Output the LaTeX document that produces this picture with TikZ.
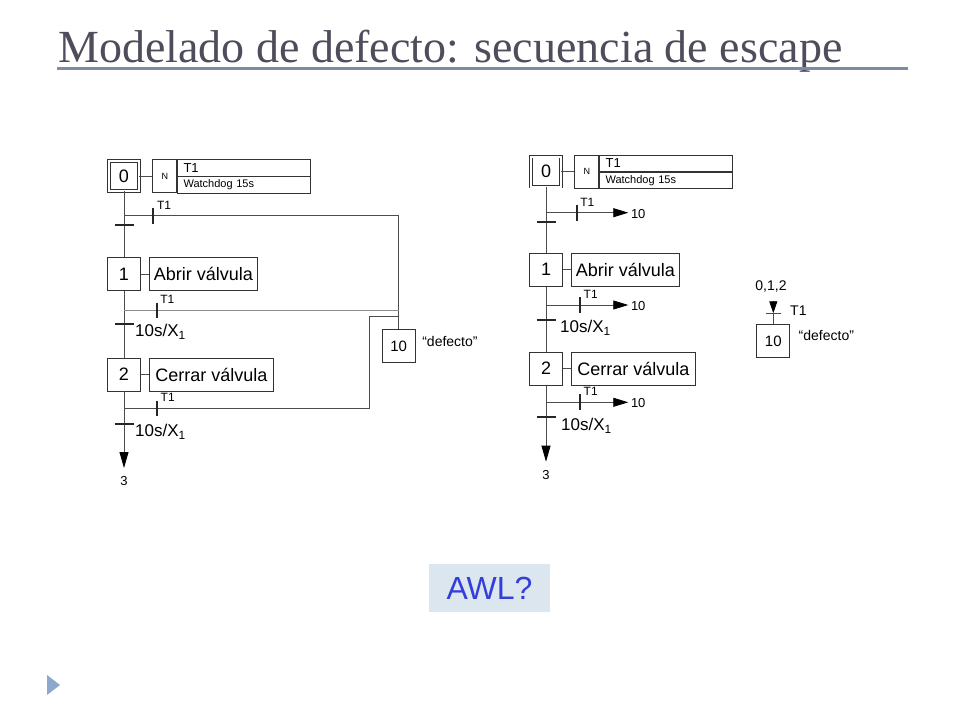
\documentclass[tikz,border=0pt]{standalone}
\usepackage{fontspec}
\setmainfont{Liberation Sans}
\newfontfamily\titlefont{Liberation Serif}
\usepackage{xcolor}
\usetikzlibrary{arrows.meta,positioning,calc}
\definecolor{titlegray}{RGB}{77,77,92}
\definecolor{rulegray}{RGB}{125,139,165}
\definecolor{awlback}{RGB}{220,230,238}
\definecolor{awlblue}{RGB}{52,62,218}
\definecolor{bulletblue}{RGB}{141,168,203}
\newcommand{\fs}[1]{\fontsize{#1}{#1}\selectfont}

\begin{document}
\begin{tikzpicture}[x=1pt, y=-1pt, >=Latex]
\tikzstyle{etapa}=[draw=black!80, line width=0.8pt, minimum width=33pt, minimum height=33pt, inner sep=0pt, font=\fs{18}]
\tikzstyle{inicial}=[etapa, minimum width=30pt, minimum height=30pt, line width=0.7pt, double, double distance=2pt]
\tikzstyle{accion}=[draw=black!80, line width=0.8pt, minimum height=33pt, inner sep=3pt, font=\fs{18}]
\tikzstyle{celdan}=[draw=black!80, line width=0.8pt, minimum width=24pt, minimum height=33pt, inner sep=0pt, font=\fs{9}]
\tikzstyle{celda}=[draw=black!80, line width=0.8pt, anchor=north west, minimum height=16.5pt, text width=121pt, inner xsep=6pt, inner ysep=0pt, align=left]
\tikzstyle{linea}=[draw=black!70, line width=0.8pt]
\tikzstyle{barra}=[black!85, line width=2pt]
\tikzstyle{lbl}=[inner sep=0pt, font=\fs{12}]
\tikzstyle{flecha}=[linea, -{Triangle[length=15pt,width=9pt,color=black,fill=black]}]
\tikzstyle{baja}=[linea, -{Triangle[length=16pt,width=9pt,color=black,fill=black]}]

\fill[white] (0,0) rectangle (960,720);
\useasboundingbox (0,0) rectangle (960,720);

% title
\node[font=\titlefont\fs{46}, text=titlegray, anchor=base west, inner sep=0pt] (titulo) at (58,62) {Modelado de defecto: secuencia de escape};
\draw[rulegray, line width=2.5pt] (57,68.5) -- (908,68.5);

% left grafcet
\node[inicial] (s0) at (124,176) {0};
\node[celdan, right=13pt of s0] (a0n) {N};
\node[celda, font=\fs{13}] (a0t) at (a0n.north east) {T1};
\node[celda, font=\fs{11}] (a0w) at (a0t.south west) {Watchdog 15s};
\node[etapa] (s1) at (124,274) {1};
\node[accion, minimum width=108pt, right=8pt of s1] (a1) {Abrir válvula};
\node[etapa] (s2) at (124,374.5) {2};
\node[accion, minimum width=124pt, right=8pt of s2] (a2) {Cerrar válvula};
\node[etapa, font=\fs{15}] (s10) at (398.7,346.3) {10};
\node[lbl, font=\fs{14}, anchor=west] (d10) at ($(s10.east)+(6.5,-4.6)$) {“defecto”};

\coordinate (j0) at (124,215.7);
\coordinate (t0) at (124,225);
\coordinate (j1) at (124,310);
\coordinate (t1) at (124,324);
\coordinate (j2) at (124,408);
\coordinate (t2) at (124,424);
\coordinate (e3) at (124,468);
\coordinate (m0) at (153.3,215.7);
\coordinate (m1) at (156.7,310);
\coordinate (m2) at (157,408);
\coordinate (q2) at (369,316.7);

\draw[linea] (s0) -- (a0n);
\draw[linea] (s1) -- (a1);
\draw[linea] (s2) -- (a2);
\draw[linea] (s0) -- (s1) -- (s2);
\draw[baja] (s2) -- (e3);
\node[lbl, font=\fs{13}, anchor=north] (n3) at ($(e3)+(0,8.5)$) {3};

\draw[linea] (j0) -| (s10);
\draw[linea, black!45] (j1) -- (j1 -| s10);
\draw[linea] (j2) -| (q2) -- (q2 -| s10);

\foreach \t in {t0,t1,t2}
  \draw[barra] ($(\t)+(-9.5,0)$) -- ($(\t)+(9.5,0)$);
\foreach \m in {m0,m1,m2} {
  \draw[barra] ($(\m)+(0,-7.5)$) -- ($(\m)+(0,8)$);
  \node[lbl, anchor=west] at ($(\m)+(3.5,-10.7)$) {T1};
}
\node[lbl, font=\fs{17}, anchor=west] (c1) at ($(t1)+(11,7.7)$) {10s/X\textsubscript{1}};
\node[lbl, font=\fs{17}, anchor=west] (c2) at ($(t2)+(11,7.7)$) {10s/X\textsubscript{1}};

% right grafcet
\node[inicial] (r0) at (546,171.5) {0};
\node[celdan, right=13pt of r0] (ra0n) {N};
\node[celda, font=\fs{13}] (ra0t) at (ra0n.north east) {T1};
\node[celda, font=\fs{11}] (ra0w) at (ra0t.south west) {Watchdog 15s};
\node[etapa] (r1) at (546,269.7) {1};
\node[accion, minimum width=108pt, right=8pt of r1] (ra1) {Abrir válvula};
\node[etapa] (r2) at (546,368.7) {2};
\node[accion, minimum width=124pt, right=8pt of r2] (ra2) {Cerrar válvula};

\coordinate (rj0) at (546,212.7);
\coordinate (rt0) at (546,221.7);
\coordinate (rj1) at (546,305);
\coordinate (rt1) at (546,320);
\coordinate (rj2) at (546,402.3);
\coordinate (rt2) at (546,416.7);
\coordinate (re3) at (546,461.7);
\coordinate (rm0) at (576.7,212.7);
\coordinate (rm1) at (580,305);
\coordinate (rm2) at (580,402.3);
\coordinate (ro0) at (628.3,212.7);
\coordinate (ro1) at (628.3,305);
\coordinate (ro2) at (628.3,402.3);

\draw[linea] (r0) -- (ra0n);
\draw[linea] (r1) -- (ra1);
\draw[linea] (r2) -- (ra2);
\draw[linea] (r0) -- (r1) -- (r2);
\draw[baja] (r2) -- (re3);
\node[lbl, font=\fs{13}, anchor=north] (rn3) at ($(re3)+(0,8.5)$) {3};

\draw[flecha] (rj0) -- (ro0);
\draw[flecha] (rj1) -- (ro1);
\draw[flecha] (rj2) -- (ro2);
\node[lbl, font=\fs{13}, anchor=west] (rd0) at ($(ro0)+(2.5,1)$) {10};
\node[lbl, font=\fs{13}, anchor=west] (rd1) at ($(ro1)+(2.5,1)$) {10};
\node[lbl, font=\fs{13}, anchor=west] (rd2) at ($(ro2)+(2.5,1)$) {10};

\foreach \t in {rt0,rt1,rt2}
  \draw[barra] ($(\t)+(-9.5,0)$) -- ($(\t)+(9.5,0)$);
\foreach \m in {rm0,rm1,rm2} {
  \draw[barra] ($(\m)+(0,-8)$) -- ($(\m)+(0,8)$);
  \node[lbl, anchor=west] at ($(\m)+(3.5,-10.7)$) {T1};
}
\node[lbl, font=\fs{17}, anchor=west] (rc1) at ($(rt1)+(14,8)$) {10s/X\textsubscript{1}};
\node[lbl, font=\fs{17}, anchor=west] (rc2) at ($(rt2)+(15,9)$) {10s/X\textsubscript{1}};

% step 10, reached from 0,1,2
\node[etapa, font=\fs{15}] (r10) at (773.3,341.2) {10};
\node[lbl, font=\fs{14}, anchor=west] (rd10) at ($(r10.east)+(8.3,-6.2)$) {“defecto”};
\coordinate (rb) at (773.3,313.3);
\coordinate (rp) at (773.3,300.5);
\node[lbl, font=\fs{14}] (src) at (771,286.7) {0,1,2};
\draw[linea] (r10) -- (rb);
\draw[linea, -{Triangle[length=12pt,width=8pt,color=black,fill=black]}] (rp) -- (rb);
\draw[linea] ($(rb)+(-7.5,0)$) -- ($(rb)+(7.5,0)$);
\node[lbl, font=\fs{14}, anchor=west] (rtt) at (790,310.7) {T1};

% question
\node[fill=awlback, minimum width=121pt, minimum height=48pt, text=awlblue, font=\fs{32}] (awl) at (489.5,588) {AWL?};
\fill[bulletblue] (47,675) -- (60,685) -- (47,695) -- cycle;
\end{tikzpicture}
\end{document}
